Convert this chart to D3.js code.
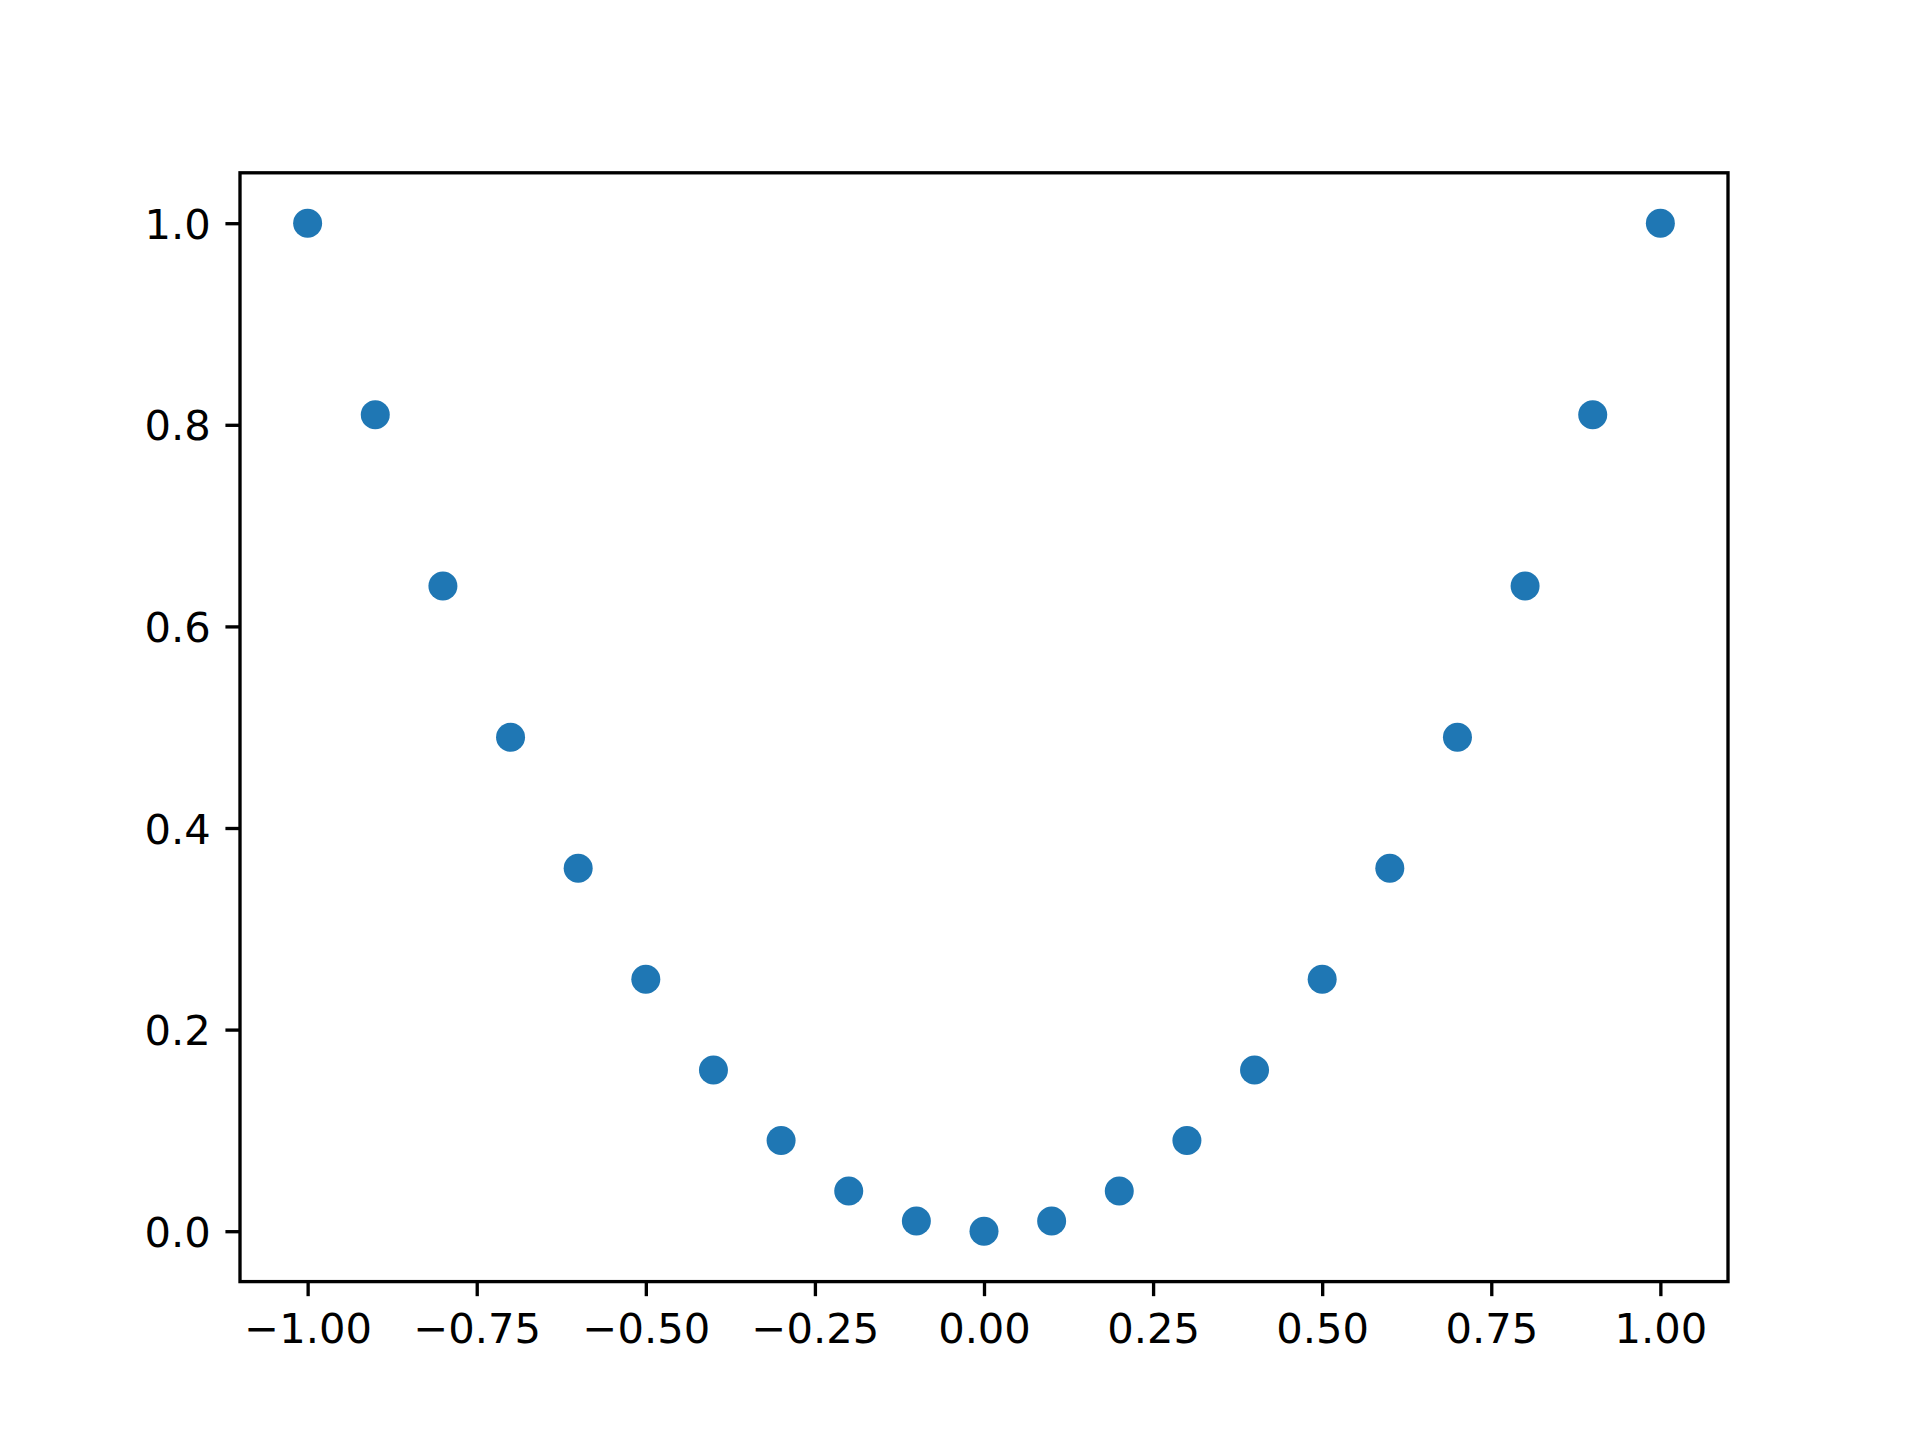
<!DOCTYPE html>
<html><head><meta charset="utf-8">
<script src="https://cdn.jsdelivr.net/npm/d3@7"></script>
<style>body{margin:0;background:#fff}svg{display:block}</style>
</head><body>
<svg id="chart" width="1920" height="1440"></svg>
<script>
const xValues = [-1.0,-0.9,-0.8,-0.7,-0.6,-0.5,-0.4,-0.3,-0.2,-0.1,0.0,0.1,0.2,0.3,0.4,0.5,0.6,0.7,0.8,0.9,1.0];
const yValues = [1.0,0.81,0.64,0.49,0.36,0.25,0.16,0.09,0.04,0.01,0.0,0.01,0.04,0.09,0.16,0.25,0.36,0.49,0.64,0.81,1.0];
const xTicks = [-1.0,-0.75,-0.5,-0.25,0.0,0.25,0.5,0.75,1.0];
const yTicks = [0.0,0.2,0.4,0.6,0.8,1.0];

const W=1920,H=1440;
const L=240,R=1728,T=172.8,B=1281.6;
const fs=41.67, tickLen=14.58, pad=14.58, lw=3.33;
const svg=d3.select('#chart');
const x=d3.scaleLinear().domain([-1.1,1.1]).range([L,R]);
const y=d3.scaleLinear().domain([-0.05,1.05]).range([B,T]);
const fmt=(v,d)=>{const s=Math.abs(v).toFixed(d);return (v<0?'\u2212':'')+s;};

const xAxis=d3.axisBottom(x).tickValues(xTicks).tickSize(tickLen).tickPadding(pad).tickFormat(d=>fmt(d,2));
const yAxis=d3.axisLeft(y).tickValues(yTicks).tickSize(tickLen).tickPadding(pad).tickFormat(d=>fmt(d,1));

const gx=svg.append('g').attr('transform',`translate(0,${B})`).call(xAxis);
const gy=svg.append('g').attr('transform',`translate(${L},0)`).call(yAxis);
[gx,gy].forEach(g=>{
  g.select('.domain').remove();
  g.selectAll('.tick line').attr('stroke','#000').attr('stroke-width',lw);
  g.selectAll('.tick text').attr('fill','#000').attr('font-family','DejaVu Sans').attr('font-size',fs);
});
gx.selectAll('.tick text').attr('dy',null).attr('y',tickLen+pad).attr('dominant-baseline','hanging').attr('dy','0.02em');
gy.selectAll('.tick text').attr('dy','0.36em');

svg.append('g').selectAll('circle').data(xValues).join('circle')
  .attr('cx',(d)=>x(d)).attr('cy',(d,i)=>y(yValues[i])).attr('r',14.5).attr('fill','#1f77b4');

svg.append('rect').attr('x',L).attr('y',T).attr('width',R-L).attr('height',B-T)
  .attr('fill','none').attr('stroke','#000').attr('stroke-width',lw).attr('stroke-linejoin','miter');
</script>
</body></html>
